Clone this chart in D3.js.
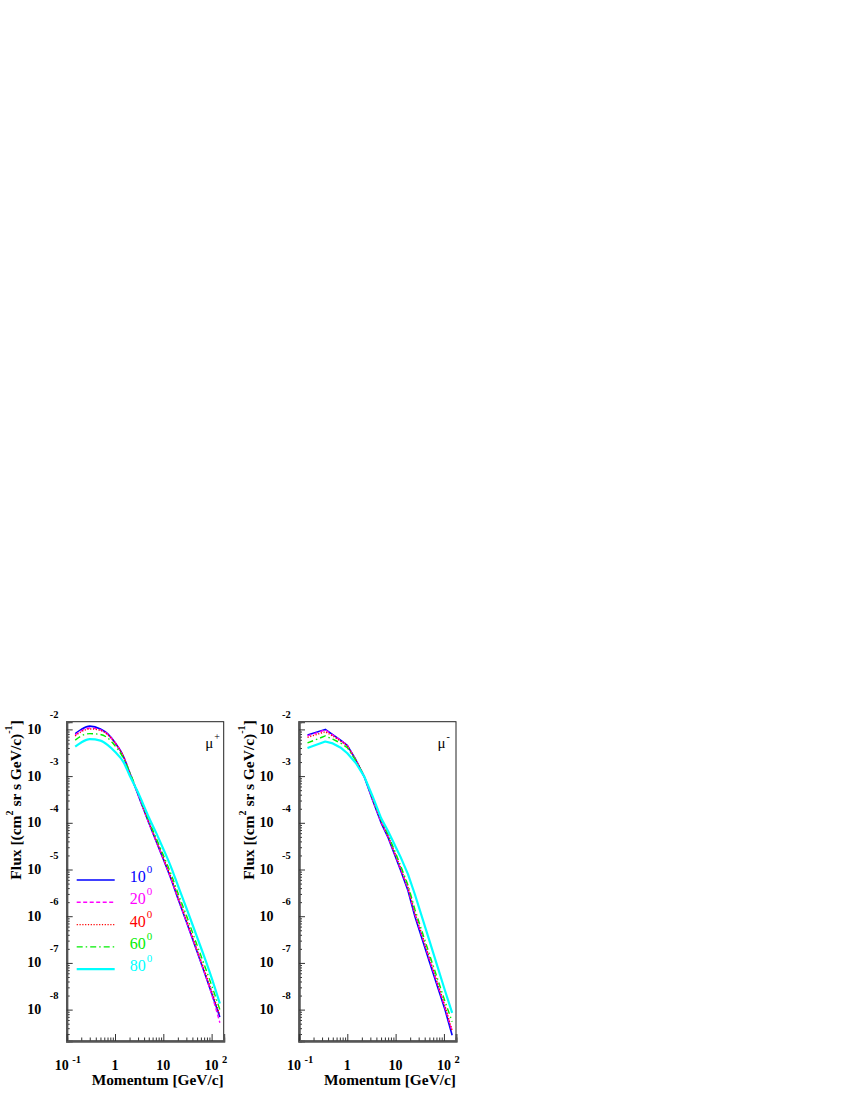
<!DOCTYPE html>
<html><head><meta charset="utf-8">
<script src="https://cdn.jsdelivr.net/npm/d3@7"></script>
<style>
body{margin:0;background:#fff}
svg text{font-family:"Liberation Serif","Times New Roman",serif}
</style>
</head><body>
<svg id="chart" width="850" height="1100"></svg>
<script>
// ---------------- data ----------------
const angleLabels = ["10", "20", "40", "60", "80"];   // zenith angle, degrees

// mu+ panel : momentum [GeV/c]
const momentumMuPlus = [0.15, 0.2, 0.3, 0.5, 0.7, 1, 1.5, 2, 3, 5, 7, 10, 15, 20, 30, 50, 70, 100, 148];
// log10 of flux [(cm^2 sr s GeV/c)^-1]
const muPlus10 = [-2.09, -2.00, -1.93, -1.99, -2.09, -2.28, -2.58, -2.92, -3.40, -4.00, -4.38, -4.78, -5.25, -5.62, -6.12, -6.76, -7.19, -7.65, -8.16];
const muPlus20 = [-2.12, -2.03, -1.97, -2.01, -2.10, -2.28, -2.58, -2.92, -3.40, -4.00, -4.38, -4.77, -5.24, -5.61, -6.11, -6.75, -7.18, -7.67, -8.28];
const muPlus40 = [-2.14, -2.05, -1.99, -2.02, -2.11, -2.29, -2.58, -2.91, -3.38, -3.98, -4.35, -4.75, -5.21, -5.58, -6.07, -6.72, -7.14, -7.60, -8.12];
const muPlus60 = [-2.23, -2.14, -2.09, -2.11, -2.18, -2.35, -2.62, -2.91, -3.36, -3.95, -4.31, -4.69, -5.14, -5.50, -5.98, -6.62, -7.03, -7.48, -8.00];
const muPlus80 = [-2.37, -2.28, -2.21, -2.24, -2.33, -2.48, -2.70, -2.98, -3.35, -3.88, -4.20, -4.56, -4.99, -5.34, -5.82, -6.45, -6.86, -7.32, -7.87];

// mu- panel
const momentumMuMinus = [0.15, 0.35, 0.5, 0.75, 1, 1.5, 2.25, 3.3, 5, 7, 12.5, 18, 25, 51, 105, 148];
const muMinus10 = [-2.12, -2.00, -2.11, -2.24, -2.34, -2.65, -3.02, -3.50, -4.00, -4.32, -5.00, -5.45, -6.00, -7.00, -8.00, -8.55];
const muMinus20 = [-2.14, -2.01, -2.12, -2.24, -2.34, -2.65, -3.01, -3.49, -3.98, -4.30, -4.97, -5.41, -5.95, -6.95, -7.95, -8.47];
const muMinus40 = [-2.17, -2.05, -2.14, -2.26, -2.35, -2.65, -3.00, -3.48, -3.96, -4.28, -4.95, -5.38, -5.92, -6.92, -7.92, -8.45];
const muMinus60 = [-2.29, -2.14, -2.21, -2.30, -2.39, -2.67, -3.00, -3.45, -3.93, -4.25, -4.90, -5.33, -5.85, -6.84, -7.82, -8.26];
const muMinus80 = [-2.40, -2.26, -2.30, -2.40, -2.51, -2.72, -3.01, -3.42, -3.90, -4.18, -4.72, -5.10, -5.53, -6.55, -7.59, -8.07];

// axis ticks
const yTickExponents = [-2, -3, -4, -5, -6, -7, -8];
const xTickValues = [0.1, 1, 10, 100];
const xTickBase = ["10", "1", "10", "10"];
const xTickExp = ["-1", "", "", "2"];

// ---------------- styles ----------------
const seriesStyle = [
  {color: "#0000ff", width: 1.6, dash: null},
  {color: "#ff00ff", width: 1.4, dash: "4,2.5"},
  {color: "#ff0000", width: 1.4, dash: "1.2,1.6"},
  {color: "#00ee00", width: 1.4, dash: "6,3,1.5,3"},
  {color: "#00ffff", width: 2.2, dash: null}
];

const svg = d3.select("#chart");
const W = 157, H = 319.3, TOP = 721.7;

function drawPanel(left, momentum, series, particleSign, showLegend, curveType, id) {
  const x = d3.scaleLog().domain([0.1, Math.pow(10, 2.25)]).range([left, left + W]);
  const y = d3.scaleLog().domain([Math.pow(10, -8.672), Math.pow(10, -1.835)]).range([TOP + H, TOP]);
  const g = svg.append("g");

  svg.append("clipPath").attr("id", "clip" + id)
    .append("rect").attr("x", left).attr("y", TOP).attr("width", W).attr("height", H);

  g.append("rect").attr("x", left).attr("y", TOP).attr("width", W).attr("height", H)
    .attr("fill", "none").attr("stroke", "#222").attr("stroke-width", 1);

  // y ticks
  const yMajor = yTickExponents.map(e => Math.pow(10, e));
  const yMinor = [];
  for (let d = -9; d <= -2; d++) for (let m = 2; m <= 9; m++) {
    const v = m * Math.pow(10, d);
    if (v > y.domain()[0] && v < y.domain()[1]) yMinor.push(v);
  }
  const yAxisMinor = g.append("g").attr("transform", `translate(${left},0)`)
    .call(d3.axisLeft(y).tickValues(yMinor).tickSize(-3).tickFormat(""));
  const yAxisMajor = g.append("g").attr("transform", `translate(${left},0)`)
    .call(d3.axisLeft(y).tickValues(yMajor).tickSize(-6).tickFormat(""));
  [yAxisMinor, yAxisMajor].forEach(a => {
    a.select(".domain").attr("stroke", "#555").attr("stroke-width", 2);
    a.selectAll(".tick line").attr("stroke", "#333").attr("stroke-width", 1);
  });

  // x ticks
  const xMinor = [];
  for (let d = -1; d <= 2; d++) for (let m = 2; m <= 9; m++) {
    const v = m * Math.pow(10, d);
    if (v > x.domain()[0] && v < x.domain()[1]) xMinor.push(v);
  }
  const xAxisMinor = g.append("g").attr("transform", `translate(0,${TOP + H})`)
    .call(d3.axisBottom(x).tickValues(xMinor).tickSize(-3.5).tickFormat(""));
  const xAxisMajor = g.append("g").attr("transform", `translate(0,${TOP + H})`)
    .call(d3.axisBottom(x).tickValues(xTickValues).tickSize(-7).tickFormat(""));
  [xAxisMinor, xAxisMajor].forEach(a => {
    a.select(".domain").attr("stroke", "#555").attr("stroke-width", 2);
    a.selectAll(".tick line").attr("stroke", "#333").attr("stroke-width", 1);
  });

  // y tick labels
  yTickExponents.forEach(e => {
    const ty = y(Math.pow(10, e));
    g.append("text").attr("x", left - 25.5).attr("y", ty + 4.5)
      .attr("text-anchor", "end").attr("font-size", 14).attr("font-weight", "bold").text("10");
    g.append("text").attr("x", left - 17).attr("y", ty - 11)
      .attr("text-anchor", "start").attr("font-size", 10.5).attr("font-weight", "bold").text(String(e));
  });

  // x tick labels
  xTickValues.forEach((v, i) => {
    const tx = x(v) + (xTickExp[i].length > 1 ? -5 : 0);
    g.append("text").attr("x", tx).attr("y", 1069.5)
      .attr("text-anchor", "middle").attr("font-size", 14).attr("font-weight", "bold").text(xTickBase[i]);
    if (xTickExp[i]) {
      g.append("text").attr("x", tx + 7 + 3.5).attr("y", 1062.5)
        .attr("text-anchor", "start").attr("font-size", 10.5).attr("font-weight", "bold").text(xTickExp[i]);
    }
  });

  // axis titles
  g.append("text").attr("x", left + W).attr("y", 1085)
    .attr("text-anchor", "end").attr("font-size", 15.4).attr("font-weight", "bold")
    .text("Momentum [GeV/c]");

  const yt = g.append("text")
    .attr("transform", `translate(${left - 45.5},${TOP - 1.5}) rotate(-90)`)
    .attr("text-anchor", "end").attr("font-size", 15.5).attr("font-weight", "bold");
  yt.append("tspan").text("Flux [(cm");
  yt.append("tspan").attr("dy", -8).attr("font-size", 10).text("2");
  yt.append("tspan").attr("dy", 8).text(" sr s GeV/c)");
  yt.append("tspan").attr("dy", -9).attr("font-size", 10).text("-1");
  yt.append("tspan").attr("dy", 9).text("]");

  // curves
  const line = d3.line().x(d => x(d.p)).y(d => y(Math.pow(10, d.f))).curve(curveType);
  const cg = g.append("g").attr("clip-path", `url(#clip${id})`);
  series.forEach((vals, i) => {
    const pts = momentum.map((p, k) => ({p: p, f: vals[k]}));
    const st = seriesStyle[i];
    cg.append("path").datum(pts).attr("d", line)
      .attr("fill", "none").attr("stroke", st.color).attr("stroke-width", st.width)
      .attr("stroke-dasharray", st.dash).attr("stroke-linejoin", "round");
  });

  // particle label
  g.append("text").attr("x", left + W - 18.5).attr("y", 748)
    .attr("font-size", 15).text("\u03BC");
  g.append("text").attr("x", left + W - 9.5).attr("y", 740)
    .attr("font-size", 10).text(particleSign);

  // legend
  if (showLegend) {
    const legendY0 = 880, legendDY = 22.3;
    angleLabels.forEach((a, i) => {
      const ly = legendY0 + i * legendDY;
      const st = seriesStyle[i];
      g.append("line").attr("x1", left + 10).attr("x2", left + 48)
        .attr("y1", ly).attr("y2", ly)
        .attr("stroke", st.color).attr("stroke-width", st.width).attr("stroke-dasharray", st.dash);
      g.append("text").attr("x", left + 63).attr("y", ly + 2)
        .attr("font-size", 16).attr("fill", st.color).text(a);
      g.append("text").attr("x", left + 80).attr("y", ly - 7)
        .attr("font-size", 11).attr("fill", st.color).text("0");
    });
  }
}

drawPanel(66.7, momentumMuPlus, [muPlus10, muPlus20, muPlus40, muPlus60, muPlus80], "+", true, d3.curveMonotoneX, "L");
drawPanel(299, momentumMuMinus, [muMinus10, muMinus20, muMinus40, muMinus60, muMinus80], "-", false, d3.curveLinear, "R");
</script>
</body></html>
